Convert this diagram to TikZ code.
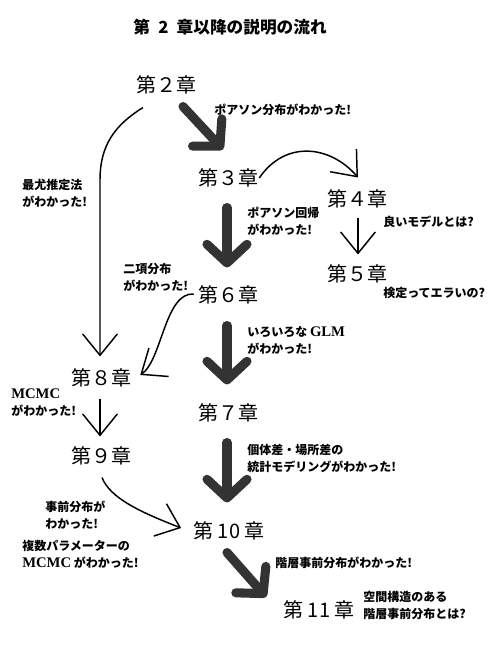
\documentclass[tikz,border=0pt]{standalone}
\usepackage{fontspec}
\setmainfont{Noto Sans CJK JP}
\newfontfamily\latinserif{Liberation Serif}
\newcommand{\latinword}[1]{{\latinserif\fontsize{11}{12.75}\selectfont\bfseries #1}}
\usetikzlibrary{arrows.meta,calc}

\begin{document}
\begin{tikzpicture}[x=0.75pt,y=0.75pt,yscale=-1,xscale=1,
  chapter/.style={inner sep=0.75pt,font=\fontsize{15}{18}\selectfont},
  remark/.style={anchor=west,inner sep=0.75pt,align=left,font=\bfseries\fontsize{9}{12.75}\selectfont},
  thinarr/.style={line width=1.1pt,-{Straight Barb[length=16pt,width=26pt]}},
  thickarr/.style={line width=6.8pt,black!80,line cap=round,-{Straight Barb[length=14pt,width=30pt,round]}}]
\useasboundingbox (0,0) rectangle (496,650);
% Title
\draw (230,27) node [inner sep=0.75pt,font=\bfseries\fontsize{12.5}{15}\selectfont] (title) {第\hspace{0.5em}2\hspace{0.5em}章以降の説明の流れ};
% Chapters
\draw (166,85) node [chapter] (ch2) {第２章};
\draw (228,178) node [chapter] (ch3) {第３章};
\draw (357,199) node [chapter] (ch4) {第４章};
\draw (357,274) node [chapter] (ch5) {第５章};
\draw (228,295) node [chapter] (ch6) {第６章};
\draw (228,413) node [chapter] (ch7) {第７章};
\draw (101,378) node [chapter] (ch8) {第８章};
\draw (101,456) node [chapter] (ch9) {第９章};
\draw (229,531) node [chapter] (ch10) {第 10 章};
\draw (319,610) node [chapter] (ch11) {第 11 章};
% Text Node
\draw (213,110) node [remark] (r23) {ポアソン分布がわかった!};
% Text Node
\draw (21,193) node [remark] (r28) {最尤推定法\\がわかった!};
% Text Node
\draw (246,221) node [remark] (r36) {ポアソン回帰\\がわかった!};
% Text Node
\draw (382,222) node [remark] (r4) {良いモデルとは?};
% Text Node
\draw (122,277) node [remark] (r68) {二項分布\\がわかった!};
% Text Node
\draw (382,293) node [remark] (r5) {検定ってエラいの?};
% Text Node
\draw (246,340) node [remark] (r67) {いろいろな \latinword{GLM}\\がわかった!};
% Text Node
\draw (10,403) node [remark] (r89) {\latinword{MCMC}\\がわかった!};
% Text Node
\draw (246,458) node [remark] (r710) {個体差・場所差の\\統計モデリングがわかった!};
% Text Node
\draw (44,515) node [remark] (r910a) {事前分布が\\わかった!};
% Text Node
\draw (21,554) node [remark] (r910b) {複数パラメーターの\\\latinword{MCMC} がわかった!};
% Text Node
\draw (274,563) node [remark] (r1011) {階層事前分布がわかった!};
% Text Node
\draw (362,605) node [remark] (r11) {空間構造のある\\階層事前分布とは?};
% Thick arrows
\draw [thickarr] ($(ch2.south)+(17,11)$) -- ($(ch3.north)+(-5,-18)$);
\draw [thickarr] ($(ch3.south)+(-1,19)$) -- ($(ch6.north)+(-1,-17)$);
\draw [thickarr] ($(ch6.south)+(-1,20)$) -- ($(ch7.north)+(-1,-18)$);
\draw [thickarr] ($(ch7.south)+(-1,19)$) -- ($(ch10.north)+(-2,-18)$);
\draw [thickarr] ($(ch10.south)+(-2,11)$) -- ($(ch11.west)+(-16,-13)$);
% Thin arrows
\draw [thinarr] (ch3.east) .. controls (285,140) and (330,145) .. ($(ch4.north)+(1,-11)$);
\draw [thinarr] ($(ch4.south)+(1,8)$) -- ($(ch5.north)+(1,-9)$);
\draw [thinarr] ($(ch2.south)+(-23,12)$) .. controls (115,125) and (100,145) .. (100,180) -- ($(ch8.north)+(-1,-11)$);
\draw [thinarr] ($(ch6.west)+(-3,-1)$) .. controls (165,292) and (162,360) .. ($(ch8.east)+(8,-3)$);
\draw [thinarr] ($(ch8.south)+(-1,10)$) -- ($(ch9.north)+(-1,-9)$);
\draw [thinarr] ($(ch9.south)+(1,11)$) .. controls (110,498) and (140,512) .. ($(ch10.west)+(-11,-3)$);
\end{tikzpicture}
\end{document}
